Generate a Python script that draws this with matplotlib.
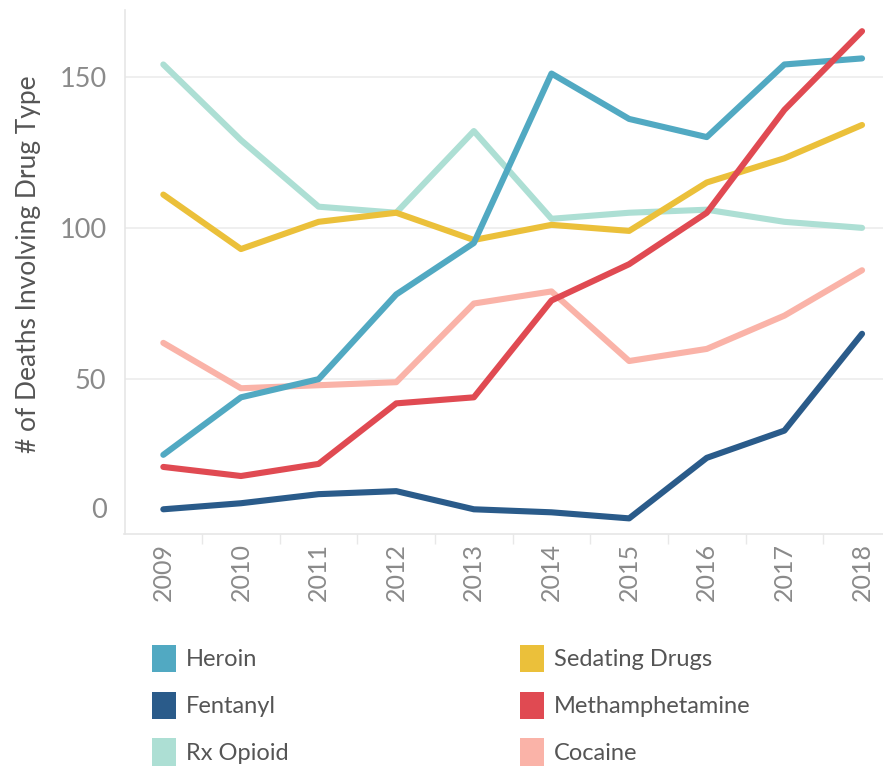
import matplotlib
matplotlib.use("Agg")
import matplotlib.pyplot as plt
from matplotlib.patches import Patch

# ---- data ------------------------------------------------------------------
years = [2009, 2010, 2011, 2012, 2013, 2014, 2015, 2016, 2017, 2018]
heroin = [25, 44, 50, 78, 95, 151, 136, 130, 154, 156]
fentanyl = [7, 9, 12, 13, 7, 6, 4, 24, 33, 65]
rx_opioid = [154, 129, 107, 105, 132, 103, 105, 106, 102, 100]
sedating = [111, 93, 102, 105, 96, 101, 99, 115, 123, 134]
meth = [21, 18, 22, 42, 44, 76, 88, 105, 139, 165]
cocaine = [62, 47, 48, 49, 75, 79, 56, 60, 71, 86]
yticks = [0, 50, 100, 150]

HEROIN = "#51A9C2"; FENT = "#2A5B8A"; RX = "#ADDFD4"
SED = "#EBC03A"; METH = "#E04A52"; COC = "#FAB3A8"
TICK_GREY = "#8a8a8a"; TEXT_GREY = "#555555"; GRID = "#ececec"

plt.rcParams["font.family"] = ["Lato", "DejaVu Sans"]

fig = plt.figure(figsize=(8.83, 7.68), dpi=100)
ax = fig.add_axes([124.5 / 883, 1 - 533.5 / 768, 1 - 124.5 / 883, 523.5 / 768])

series = [(rx_opioid, RX), (cocaine, COC), (sedating, SED),
          (heroin, HEROIN), (fentanyl, FENT), (meth, METH)]
for vals, col in series:
    ax.plot(years, vals, color=col, lw=4.4, solid_capstyle="round", solid_joinstyle="round")

ax.set_xlim(2008.5, 2018.27)
ax.set_ylim(-1, 172)

# grid / spines
ax.set_yticks(yticks)
ax.set_yticklabels([""] + [str(v) for v in yticks[1:]])
for v in yticks[1:]:
    ax.axhline(v, color=GRID, lw=1.2, zorder=0)
for s in ["top", "right"]:
    ax.spines[s].set_visible(False)
ax.spines["left"].set_color("#e6e6e6")
ax.spines["bottom"].set_color("#e6e6e6")
ax.spines["left"].set_linewidth(1.2)
ax.spines["bottom"].set_linewidth(1.2)

ax.tick_params(axis="y", length=0, pad=13, labelsize=19.5, labelcolor=TICK_GREY)
ax.set_xticks(years)
ax.set_xticklabels([str(y) for y in years], rotation=90)
ax.tick_params(axis="x", which="major", length=0, pad=7, labelsize=18, labelcolor=TICK_GREY)
ax.set_xticks([y + 0.5 for y in years[:-1]], minor=True)
ax.tick_params(axis="x", which="minor", length=7, width=1.0, color="#e8e8e8", direction="out")

# "0" label sits above the baseline as in the reference
ax.annotate("0", xy=(0, 0), xycoords=("axes fraction", "data"), xytext=(-18, 20),
            textcoords="offset pixels", ha="right", va="center",
            fontsize=19.5, color=TICK_GREY)

fig.text(29 / 883, 1 - 264 / 768, "# of Deaths Involving Drug Type", rotation=90,
         ha="center", va="center", fontsize=19, color=TEXT_GREY)

# legend, two columns
def legend_col(names, cols, x):
    handles = [Patch(facecolor=c, edgecolor="none", label=n) for n, c in zip(names, cols)]
    fig.legend(handles=handles, loc="upper left", bbox_to_anchor=(x / 883, 1 - 645 / 768),
               frameon=False, fontsize=17, labelcolor=TEXT_GREY, handlelength=1.0,
               handleheight=1.4, handletextpad=0.45, labelspacing=0.82,
               borderpad=0, borderaxespad=0)

legend_col(["Heroin", "Fentanyl", "Rx Opioid"], [HEROIN, FENT, RX], 152)
legend_col(["Sedating Drugs", "Methamphetamine", "Cocaine"], [SED, METH, COC], 520)

fig.savefig("out.png", dpi=100)
